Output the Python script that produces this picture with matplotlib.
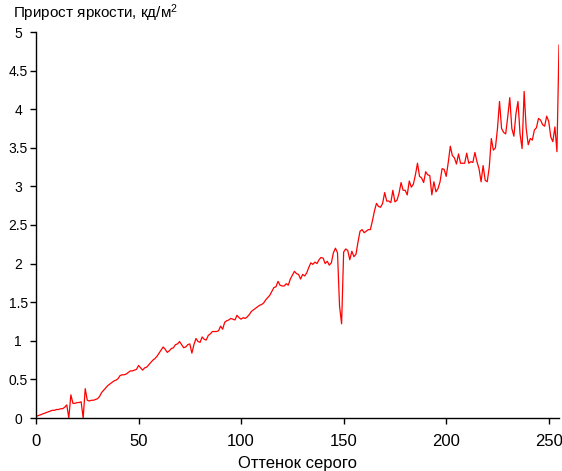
import matplotlib
matplotlib.use("Agg")
import matplotlib.pyplot as plt
import numpy as np

plt.rcParams['font.family'] = ['Liberation Sans', 'DejaVu Sans']
plt.rcParams['mathtext.fontset'] = 'custom'
plt.rcParams['mathtext.rm'] = 'Liberation Sans'
plt.rcParams['mathtext.it'] = 'Liberation Sans'

gray_level = list(range(256))
brightness_gain = [
    0.02, 0.03, 0.04, 0.05, 0.06, 0.07, 0.08, 0.09, 0.10, 0.10,
    0.11, 0.11, 0.12, 0.12, 0.14, 0.17, 0.00, 0.30, 0.19, 0.19,
    0.20, 0.20, 0.21, 0.00, 0.38, 0.23, 0.22, 0.23, 0.23, 0.24,
    0.25, 0.28, 0.33, 0.36, 0.39, 0.42, 0.44, 0.46, 0.48, 0.49,
    0.51, 0.55, 0.56, 0.56, 0.57, 0.59, 0.61, 0.61, 0.62, 0.63,
    0.68, 0.65, 0.62, 0.65, 0.66, 0.69, 0.72, 0.75, 0.77, 0.80,
    0.84, 0.88, 0.92, 0.89, 0.85, 0.87, 0.90, 0.91, 0.95, 0.96,
    0.99, 0.95, 0.91, 0.92, 0.95, 0.96, 0.84, 0.95, 1.03, 0.99,
    0.98, 1.05, 1.02, 1.01, 1.07, 1.09, 1.12, 1.12, 1.12, 1.13,
    1.19, 1.15, 1.24, 1.26, 1.27, 1.29, 1.28, 1.27, 1.33, 1.30,
    1.28, 1.30, 1.29, 1.31, 1.34, 1.38, 1.40, 1.42, 1.44, 1.46,
    1.47, 1.49, 1.53, 1.56, 1.59, 1.64, 1.69, 1.70, 1.77, 1.72,
    1.71, 1.71, 1.74, 1.72, 1.80, 1.85, 1.90, 1.87, 1.86, 1.80,
    1.86, 1.84, 1.88, 1.95, 2.01, 1.99, 2.02, 2.00, 2.05, 2.08,
    2.07, 2.00, 2.03, 1.98, 2.01, 2.14, 2.20, 2.14, 1.45, 1.22,
    2.15, 2.19, 2.17, 2.05, 2.16, 2.09, 2.12, 2.28, 2.42, 2.44,
    2.40, 2.42, 2.44, 2.44, 2.55, 2.68, 2.78, 2.74, 2.73, 2.78,
    2.92, 2.81, 2.81, 2.79, 2.95, 2.80, 2.82, 2.91, 3.05, 2.95,
    2.95, 2.89, 3.07, 2.99, 3.03, 3.15, 3.30, 3.13, 3.11, 3.05,
    3.19, 3.15, 3.14, 2.89, 3.06, 2.93, 2.97, 3.06, 3.23, 3.22,
    3.13, 3.31, 3.52, 3.40, 3.37, 3.29, 3.42, 3.30, 3.30, 3.30,
    3.43, 3.30, 3.32, 3.31, 3.44, 3.32, 3.23, 3.06, 3.27, 3.08,
    3.06, 3.25, 3.62, 3.47, 3.50, 3.75, 4.10, 3.75, 3.70, 3.68,
    3.90, 4.15, 3.75, 3.65, 3.94, 4.10, 3.68, 3.49, 4.23, 3.75,
    3.54, 3.62, 3.60, 3.73, 3.76, 3.88, 3.86, 3.80, 3.78, 3.91,
    3.84, 3.64, 3.58, 3.77, 3.45, 4.83,
]

x_ticks = [0, 50, 100, 150, 200, 250]
y_ticks = [0, 0.5, 1, 1.5, 2, 2.5, 3, 3.5, 4, 4.5, 5]
y_tick_labels = ['0', '0.5', '1', '1.5', '2', '2.5', '3', '3.5', '4', '4.5', '5']

fig = plt.figure(figsize=(5.62, 4.71), dpi=100)
ax = fig.add_axes([36/562, 53/471, (559-36)/562, (418-32)/471])
ax.plot(gray_level, brightness_gain, color='#ff0000', lw=0.9)
ax.set_xlim(0, 255)
ax.set_ylim(0, 5)
ax.set_xticks(x_ticks)
ax.set_yticks(y_ticks)
ax.set_yticklabels(y_tick_labels)
for s in ['top', 'right']:
    ax.spines[s].set_visible(False)
for s in ['left', 'bottom']:
    ax.spines[s].set_linewidth(1.0)
    ax.spines[s].set_color('black')
ax.tick_params(direction='out', length=4.3, width=1, colors='black')
ax.tick_params(axis='x', labelsize=12, pad=7.5)
ax.tick_params(axis='y', labelsize=10, pad=8.5)
for lab in ax.get_yticklabels():
    lab.set_horizontalalignment('center')
ax.set_xlabel('Оттенок серого', fontsize=12, labelpad=4.5)
fig.text(13/562, 1 - 17.5/471, 'Прирост яркости, кд/м$^2$', fontsize=11, ha='left', va='baseline')

fig.savefig('out.png', dpi=100)
